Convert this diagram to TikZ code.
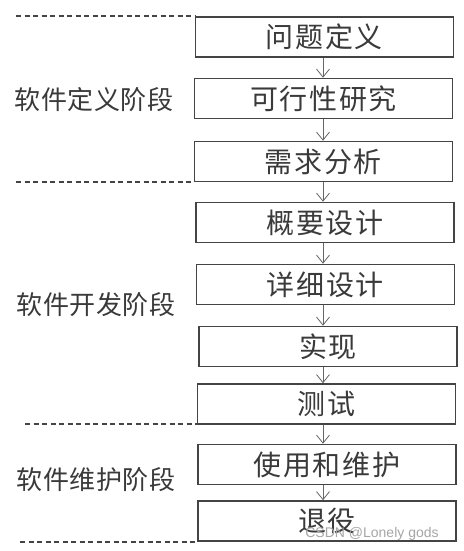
\documentclass[tikz,border=0pt]{standalone}
\usepackage{fontspec}
\newfontfamily\cjk[LetterSpace=6]{Noto Sans CJK SC}
\newfontfamily\cjklab[LetterSpace=2]{Noto Sans CJK SC}
\newfontfamily\wm{Liberation Sans}
\usetikzlibrary{arrows.meta}
\definecolor{ink}{HTML}{3A3A3A}
\definecolor{ln}{HTML}{444444}
\tikzset{
  box/.style={draw=ln, line width=1.6pt, minimum width=258pt, minimum height=40pt, inner sep=0pt,
    font=\cjk\fontsize{28}{28}\selectfont, text=ink},
  lab/.style={font=\cjklab\fontsize{26}{26}\selectfont, text=ink, inner sep=0pt},
  flow/.style={draw=gray!80!black, line width=0.8pt, -{Straight Barb[length=8pt,width=13pt]}},
  sep/.style={draw=ln, line width=1.2pt, dash pattern=on 5pt off 3.5pt}
}
\begin{document}
\begin{tikzpicture}[x=1pt,y=-1pt]
\useasboundingbox[fill=white] (0,0) rectangle (463,551);
\node[box] (b1) at (324.5,37) {问题定义};
\node[box] (b2) at (323.5,98.5) {可行性研究};
\node[box] (b3) at (323.5,161.5) {需求分析};
\node[box] (b4) at (325,222.5) {概要设计};
\node[box] (b5) at (325.5,284.5) {详细设计};
\node[box] (b6) at (328,346.5) {实现};
\node[box] (b7) at (326.5,404) {测试};
\node[box] (b8) at (327,464.5) {使用和维护};
\node[box] (b9) at (327,521) {退役};
\foreach \a/\b in {b1/b2,b2/b3,b3/b4,b4/b5,b5/b6,b6/b7,b7/b8,b8/b9}
  \draw[flow] (\a.south -| 323,0) -- (\b.north -| 323,0);
\coordinate (d1) at (16,16);
\coordinate (d2) at (16,182);
\coordinate (d3) at (25,424);
\coordinate (d4) at (20,542);
\draw[sep] (d1) -- (d1 -| b1.west);
\draw[sep] (d2) -- (d2 -| b3.west);
\draw[sep] (d3) -- (d3 -| b7.west);
\draw[sep] (d4) -- (d4 -| b9.west);
\node[lab] (l1) at (94,100) {软件定义阶段};
\node[lab] (l2) at (96,305) {软件开发阶段};
\node[lab] (l3) at (96,480) {软件维护阶段};
\node[font=\wm\fontsize{14}{14}\selectfont, text=gray!70, inner sep=0pt] (wm) at (372,534) {CSDN @Lonely gods};
\end{tikzpicture}
\end{document}
